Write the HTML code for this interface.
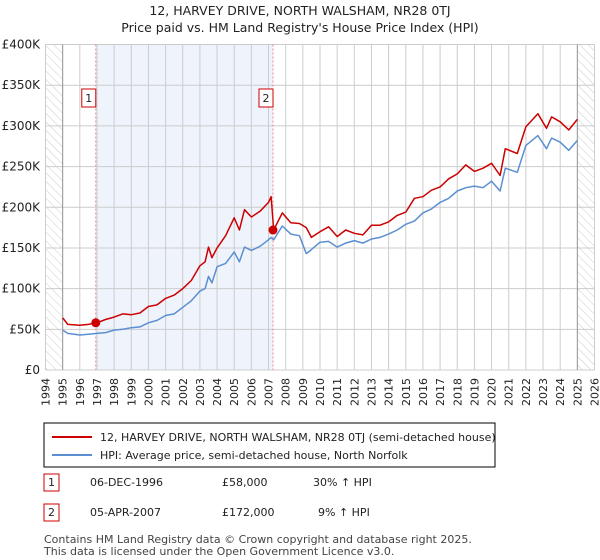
<!DOCTYPE html>
<html><head><meta charset="utf-8"><style>
body{margin:0;width:600px;height:560px;background:#fff;font-family:"DejaVu Sans","Liberation Sans",sans-serif;overflow:hidden}
svg{position:absolute;left:0;top:0}
</style></head><body>
<svg id="c" width="600" height="560" xmlns="http://www.w3.org/2000/svg">
<defs><pattern id="hatch" width="6" height="6" patternUnits="userSpaceOnUse" patternTransform="rotate(-45)"><line x1="0" y1="0" x2="0" y2="6" stroke="#ccc" stroke-width="1"/></pattern></defs>
<text x="300" y="15" text-anchor="middle" font-size="12.5" fill="#222">12, HARVEY DRIVE, NORTH WALSHAM, NR28 0TJ</text>
<text x="300" y="32" text-anchor="middle" font-size="12.5" fill="#222">Price paid vs. HM Land Registry's House Price Index (HPI)</text>
<g id="plot"></g>
<rect x="44" y="423" width="451" height="44" fill="#fff" stroke="#000" stroke-width="1"/>
<line x1="52" y1="437" x2="92" y2="437" stroke="#cc0000" stroke-width="2"/>
<text x="100" y="441" font-size="11" fill="#222">12, HARVEY DRIVE, NORTH WALSHAM, NR28 0TJ (semi-detached house)</text>
<line x1="52" y1="455" x2="92" y2="455" stroke="#5b8fd1" stroke-width="2"/>
<text x="100" y="459" font-size="11" fill="#222">HPI: Average price, semi-detached house, North Norfolk</text>
<rect x="44" y="474" width="15" height="17" fill="#fff" stroke="#cc0000"/>
<text x="51.5" y="486" font-size="11" text-anchor="middle" fill="#222">1</text>
<text x="90" y="486" font-size="11" fill="#222">06-DEC-1996</text>
<text x="222" y="486" font-size="11" fill="#222">£58,000</text>
<text x="313" y="486" font-size="11" fill="#222">30% ↑ HPI</text>
<rect x="44" y="504" width="15" height="17" fill="#fff" stroke="#cc0000"/>
<text x="51.5" y="516" font-size="11" text-anchor="middle" fill="#222">2</text>
<text x="90" y="516" font-size="11" fill="#222">05-APR-2007</text>
<text x="222" y="516" font-size="11" fill="#222">£172,000</text>
<text x="318" y="516" font-size="11" fill="#222">9% ↑ HPI</text>
<text x="44" y="543" font-size="11" fill="#444">Contains HM Land Registry data © Crown copyright and database right 2025.</text>
<text x="44" y="555" font-size="11" fill="#444">This data is licensed under the Open Government Licence v3.0.</text>
</svg>
<script>
const hpiYears=[1995,1995.3,1996,1996.5,1997,1997.5,1998,1998.5,1999,1999.5,2000,2000.5,2001,2001.5,2002,2002.5,2003,2003.3,2003.5,2003.7,2004,2004.5,2005,2005.3,2005.6,2006,2006.5,2007,2007.15,2007.3,2007.8,2008.3,2008.8,2009.2,2009.5,2010,2010.5,2011,2011.5,2012,2012.5,2013,2013.5,2014,2014.5,2015,2015.5,2016,2016.5,2017,2017.5,2018,2018.5,2019,2019.5,2020,2020.5,2020.8,2021.5,2022,2022.7,2023.2,2023.5,2024,2024.5,2025];
const hpiValues=[49,45,43,44,45,46,49,50,52,53,58,61,67,69,77,85,97,100,115,107,127,131,145,133,151,147,152,160,163,160,177,167,165,143,148,157,158,151,156,159,156,161,163,167,172,179,183,193,198,206,211,220,224,226,224,232,220,248,243,276,288,272,285,280,270,282];
const redValues=[64,56,55,56,58,62,65,69,68,70,78,80,88,92,100,110,128,133,151,138,150,165,187,172,197,188,195,206,213,172,193,181,180,175,163,170,176,164,172,168,166,178,178,182,190,194,211,213,221,225,235,241,252,244,248,254,239,272,266,299,315,297,311,305,295,308];
const saleYears=[1996.93,2007.26];
const saleValues=[58,172];
const yTicks=[0,50,100,150,200,250,300,350,400];
const yTickLabels=["£0","£50K","£100K","£150K","£200K","£250K","£300K","£350K","£400K"];
const xTicks=[1994,1995,1996,1997,1998,1999,2000,2001,2002,2003,2004,2005,2006,2007,2008,2009,2010,2011,2012,2013,2014,2015,2016,2017,2018,2019,2020,2021,2022,2023,2024,2025,2026];
const X0=45.5,X1=594.5,Y0=370,Y1=44.5;
const xs=y=>X0+(y-1994)/32*(X1-X0);
const ys=v=>Y0-v/400*(Y0-Y1);
const g=document.getElementById('plot');
const NS='http://www.w3.org/2000/svg';
function mk(t,a){const e=document.createElementNS(NS,t);for(const k in a)e.setAttribute(k,a[k]);g.appendChild(e);return e;}
let e;
e=mk('rect',{x:xs(1996.93),y:Y1,width:xs(2007.26)-xs(1996.93),height:Y0-Y1,fill:'#eef3fc'});


e=mk('rect',{x:X0,y:Y1,width:xs(1995)-X0,height:Y0-Y1,fill:'url(#hatch)'});


e=mk('rect',{x:xs(2025),y:Y1,width:X1-xs(2025),height:Y0-Y1,fill:'url(#hatch)'});


xTicks.forEach((t,i)=>{
 e=mk('line',{x1:xs(t),x2:xs(t),y1:Y1,y2:Y0,stroke:'#ccc','stroke-width':1});
 
 
 e=mk('text',{x:0,y:0,'font-size':11,fill:'#222','text-anchor':'end',transform:`translate(${xs(t)+4},${Y0+8}) rotate(-90)`});
 e.textContent=t;
 
 
});
yTicks.forEach((t,i)=>{
 e=mk('line',{x1:X0,x2:X1,y1:ys(t),y2:ys(t),stroke:'#ccc','stroke-width':1});
 
 
 e=mk('text',{x:40,y:ys(t)+4,'font-size':12,fill:'#222','text-anchor':'end'});
 e.textContent=yTickLabels[i];
 
 
});
e=mk('line',{x1:xs(1995),x2:xs(1995),y1:Y1,y2:Y0,stroke:'#999','stroke-width':1});


e=mk('line',{x1:xs(2025),x2:xs(2025),y1:Y1,y2:Y0,stroke:'#999','stroke-width':1});


saleYears.forEach((s,i)=>{
 e=mk('line',{x1:xs(s),x2:xs(s),y1:Y1,y2:Y0,stroke:'#e88','stroke-width':1,'stroke-dasharray':'2,2'});
 
 
 e=mk('rect',{x:xs(s)-14,y:89,width:14,height:18,fill:'#fff',stroke:'#cc0000'});
 
 
 e=mk('text',{x:xs(s)-7,y:102,'font-size':11,fill:'#222','text-anchor':'middle'});
 e.textContent=String(i+1);
 
 
});
const pts=(vals)=>hpiYears.map((y,i)=>xs(y).toFixed(1)+','+ys(vals[i]).toFixed(1)).join(' ');
e=mk('polyline',{points:pts(hpiValues),fill:'none',stroke:'#5b8fd1','stroke-width':1.5,'stroke-linejoin':'round'});


e=mk('polyline',{points:pts(redValues),fill:'none',stroke:'#cc0000','stroke-width':1.5,'stroke-linejoin':'round'});


saleYears.forEach((s,i)=>{
 e=mk('circle',{cx:xs(s),cy:ys(saleValues[i]),r:4.5,fill:'#cc0000'});
 
 
});
</script>
</body></html>
